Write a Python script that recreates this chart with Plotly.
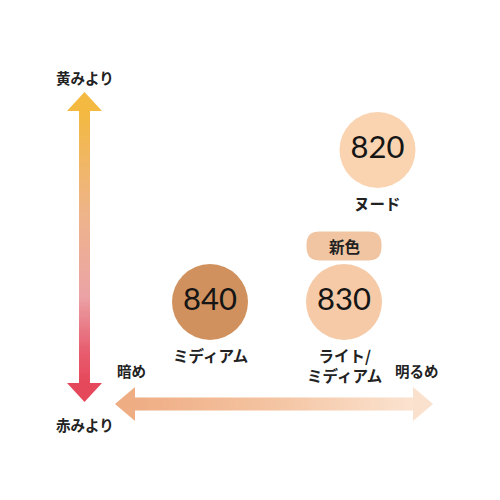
import numpy as np
import plotly.graph_objects as go

# shade map: x = brightness (暗め -> 明るめ), y = yellowness (赤み -> 黄み), 0-100 scale
shade_codes = ["840", "830", "820"]
shade_names = ["ミディアム", "ライト/<br>ミディアム", "ヌード"]
brightness = [40.4, 67.2, 73.9]
yellowness = [41.2, 41.2, 71.6]
is_new = [False, True, False]

shade_colors = ["#D0915E", "#F6CAA6", "#FAD3B0"]
jp_font = "Noto Sans CJK JP"
num_font = "Lato"

PX = 5.0   # pixels per unit (500px / 100 units)
OFF = 8.0  # page margin of the browser


def u(p):
    return (p - OFF) / PX


def uy(p):
    return (500 - (p - OFF)) / PX


fig = go.Figure()

# gradient shaft of the vertical arrow (red at bottom -> yellow at top)
n = 120
v_edges = np.linspace(uy(384), uy(110), n + 1)
fig.add_trace(go.Heatmap(
    x=[u(79), u(90)], y=v_edges,
    z=[[i / (n - 1)] for i in range(n)],
    colorscale=[[0, "#E5485A"], [0.12, "#E75E70"], [0.32, "#EBA3A6"],
                [0.62, "#EEB48A"], [1, "#F3B940"]],
    showscale=False, hoverinfo="skip", zmin=0, zmax=1,
))

# gradient shaft of the horizontal arrow (dark side -> light side)
h_edges = np.linspace(u(134), u(414), n + 1)
fig.add_trace(go.Heatmap(
    x=h_edges, y=[uy(410.5), uy(397.5)],
    z=[[i / (n - 1) for i in range(n)]],
    colorscale=[[0, "#EFAD84"], [0.5, "#F4C4A2"], [1, "#FBE3D0"]],
    showscale=False, hoverinfo="skip", zmin=0, zmax=1,
))


def tri(p1, p2, p3):
    pts = [p1, p2, p3]
    s = "M %f,%f" % (u(pts[0][0]), uy(pts[0][1]))
    for x, y in pts[1:]:
        s += " L %f,%f" % (u(x), uy(y))
    return s + " Z"


shapes = [
    dict(type="path", path=tri((84.5, 92), (67, 111), (102, 111)),
         fillcolor="#F3B940", line=dict(width=0)),
    dict(type="path", path=tri((84.5, 402), (67, 383), (102, 383)),
         fillcolor="#E5485A", line=dict(width=0)),
    dict(type="path", path=tri((115, 404), (135, 387), (135, 421)),
         fillcolor="#EFAD84", line=dict(width=0)),
    dict(type="path", path=tri((433, 404), (413, 387), (413, 421)),
         fillcolor="#FAE1CD", line=dict(width=0)),
]

annotations = []


def pill(cx, cy, w, h, r):
    # rounded rectangle, cx/cy in units, w/h/r in pixels
    x0, x1 = cx - w / 2 / PX, cx + w / 2 / PX
    y0, y1 = cy - h / 2 / PX, cy + h / 2 / PX
    rr = r / PX
    return (f"M {x0 + rr},{y0} L {x1 - rr},{y0} Q {x1},{y0} {x1},{y0 + rr} "
            f"L {x1},{y1 - rr} Q {x1},{y1} {x1 - rr},{y1} "
            f"L {x0 + rr},{y1} Q {x0},{y1} {x0},{y1 - rr} "
            f"L {x0},{y0 + rr} Q {x0},{y0} {x0 + rr},{y0} Z")


for code, name, bx, yy, new in zip(shade_codes, shade_names, brightness, yellowness, is_new):
    annotations.append(dict(
        x=bx, y=yy, text=name, showarrow=False, yanchor="top", yshift=-40,
        font=dict(family=jp_font, size=15.5, color="#222222", weight="bold"),
    ))
    if new:
        shapes.append(dict(type="path", path=pill(bx, yy + 56 / PX, 75, 29, 13),
                           fillcolor="#F1C5A1", line=dict(width=0)))
        annotations.append(dict(
            x=bx, y=yy + 56 / PX, text="新色", showarrow=False,
            font=dict(family=jp_font, size=15.5, color="#222222", weight="bold"),
        ))

fig.add_trace(go.Scatter(
    x=brightness, y=yellowness, mode="markers+text",
    text=shade_codes, textposition="middle center",
    textfont=dict(family=num_font, size=31, color="#151515"),
    marker=dict(size=76, color=shade_colors, line=dict(width=0)),
    hoverinfo="skip", showlegend=False,
))

axis_labels = [
    ("黄みより", 84.5, 77),
    ("赤みより", 84.5, 424),
    ("暗め", 131, 370),
    ("明るめ", 417, 370),
]
for txt, x, y in axis_labels:
    annotations.append(dict(
        x=u(x), y=uy(y), text=txt, showarrow=False,
        font=dict(family=jp_font, size=14.5, color="#222222", weight="bold"),
    ))

fig.update_layout(
    width=500, height=500,
    margin=dict(l=0, r=0, t=0, b=0),
    paper_bgcolor="white", plot_bgcolor="white",
    xaxis=dict(range=[0, 100], visible=False, fixedrange=True),
    yaxis=dict(range=[0, 100], visible=False, fixedrange=True),
    shapes=shapes, annotations=annotations,
    showlegend=False,
)

fig.write_html("out.html")
